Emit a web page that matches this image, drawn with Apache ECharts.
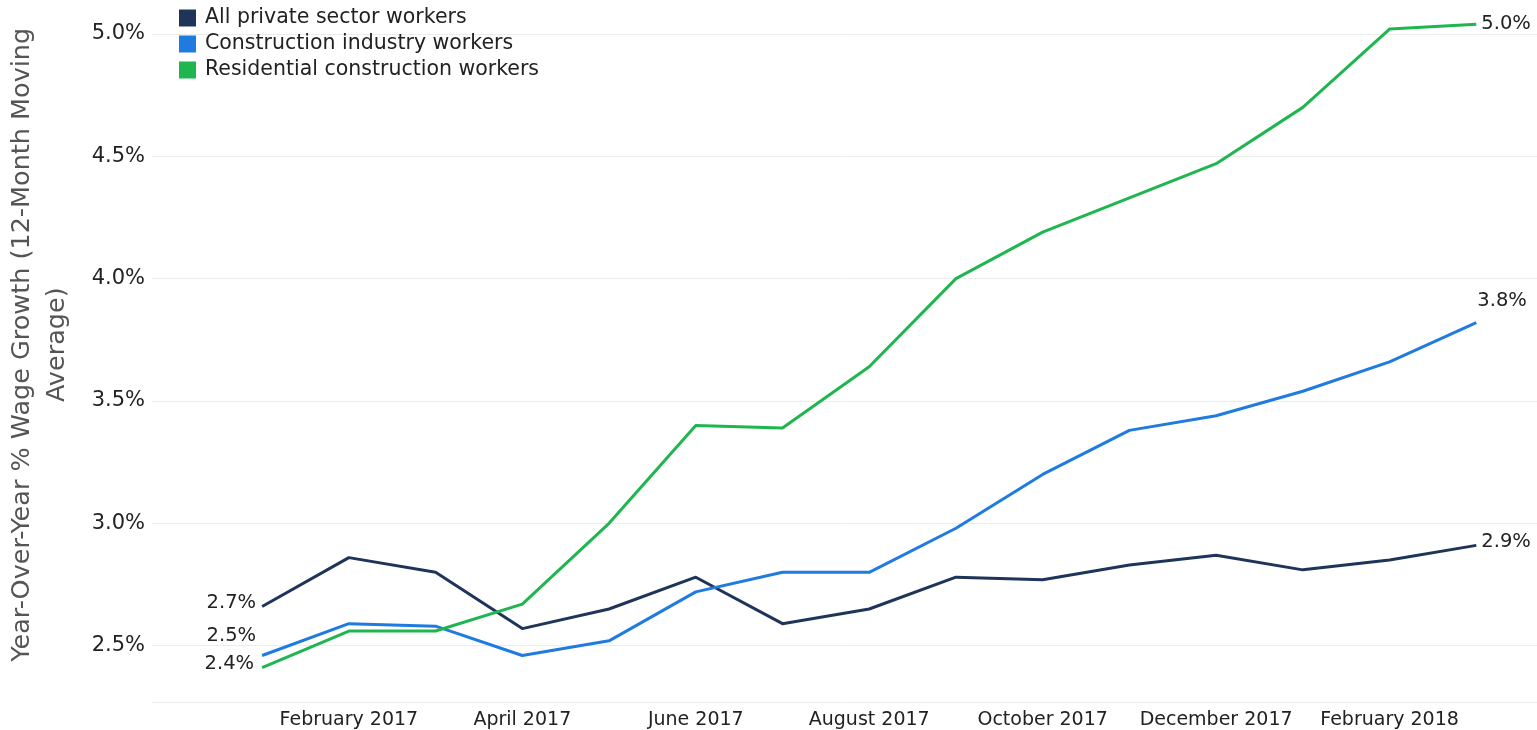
<!DOCTYPE html>
<html>
<head>
<meta charset="utf-8">
<script src="https://cdn.jsdelivr.net/npm/echarts@6/dist/echarts.min.js"></script>
<style>
  html, body { margin: 0; padding: 0; background: #fff; }
  #chart { width: 1537px; height: 730px; }
</style>
</head>
<body>
<div id="chart"></div>
<script>
// Months, January 2017 through March 2018
const months = [
  'January 2017', 'February 2017', 'March 2017', 'April 2017', 'May 2017',
  'June 2017', 'July 2017', 'August 2017', 'September 2017', 'October 2017',
  'November 2017', 'December 2017', 'January 2018', 'February 2018', 'March 2018'
];
// Month indices that carry an axis label
const labeledMonths = [1, 3, 5, 7, 9, 11, 13];
// Y-axis tick labels (percent)
const yTicks = [2.5, 3.0, 3.5, 4.0, 4.5, 5.0];

// Year-over-year wage growth, 12-month moving average (%)
const allPrivate = [2.66, 2.86, 2.80, 2.57, 2.65, 2.78, 2.59, 2.65, 2.78, 2.77, 2.83, 2.87, 2.81, 2.85, 2.91];
const construction = [2.46, 2.59, 2.58, 2.46, 2.52, 2.72, 2.80, 2.80, 2.98, 3.20, 3.38, 3.44, 3.54, 3.66, 3.82];
const residential = [2.41, 2.56, 2.56, 2.67, 3.00, 3.40, 3.39, 3.64, 4.00, 4.19, 4.33, 4.47, 4.70, 5.02, 5.04];

const seriesNames = ['All private sector workers', 'Construction industry workers', 'Residential construction workers'];
const seriesColors = ['#1e3559', '#1f7be0', '#1fb64f'];

const FONT = '"DejaVu Sans", sans-serif';
const TEXT = '#222';

// End-point label placement per series: [first, last]
const endLabels = [
  [{ position: 'left', distance: 6, offset: [0, -4] }, { position: 'right', distance: 5, offset: [0, -3] }],
  [{ position: 'left', distance: 6, offset: [0, -20] }, { position: 'right', distance: 1, offset: [0, -22] }],
  [{ position: 'left', distance: 8, offset: [0, -4] }, { position: 'right', distance: 5, offset: [0, 0] }]
];

function buildData(values, labels) {
  const last = values.length - 1;
  return values.map((v, i) => {
    const item = { value: [i, v] };
    if (i === 0 || i === last) {
      const cfg = labels[i === 0 ? 0 : 1];
      item.label = Object.assign({
        show: true,
        formatter: p => p.value[1].toFixed(1) + '%',
        color: TEXT,
        fontFamily: FONT,
        fontSize: 19.5
      }, cfg);
    }
    return item;
  });
}

const seriesValues = [allPrivate, construction, residential];

const chart = echarts.init(document.getElementById('chart'), null, { renderer: 'canvas' });
chart.setOption({
  animation: false,
  backgroundColor: '#fff',
  color: seriesColors,
  grid: { left: 152, right: 0, top: 9.5, bottom: 28, containLabel: false, outerBoundsMode: 'none' },
  legend: {
    orient: 'vertical',
    left: 174,
    top: 2.5,
    icon: 'rect',
    itemWidth: 17,
    itemHeight: 17,
    itemGap: 5,
    textStyle: { color: TEXT, fontFamily: FONT, fontSize: 20.5, lineHeight: 17, padding: [0, 0, 0, 4] },
    data: seriesNames
  },
  xAxis: {
    type: 'value',
    min: -1.27,
    max: 14.7,
    axisLine: { show: false },
    axisTick: { show: false },
    splitLine: { show: false },
    axisLabel: {
      customValues: labeledMonths,
      formatter: v => months[Math.round(v)] || '',
      color: TEXT,
      fontFamily: FONT,
      fontSize: 19,
      margin: 9
    }
  },
  yAxis: {
    type: 'value',
    min: 2.27,
    max: 5.1,
    name: 'Year-Over-Year % Wage Growth (12-Month Moving\nAverage)',
    nameLocation: 'middle',
    nameRotate: 90,
    nameGap: 77.5,
    nameTextStyle: { color: '#555', fontFamily: FONT, fontSize: 25.5, lineHeight: 35, align: 'center', padding: [0, 0, 0, 22] },
    axisLine: { show: false },
    axisTick: { show: false },
    splitLine: { show: true, showMaxLine: false, lineStyle: { color: '#ececec', width: 1 } },
    axisLabel: {
      customValues: yTicks,
      formatter: v => v.toFixed(1) + '%',
      color: TEXT,
      fontFamily: FONT,
      fontSize: 21,
      margin: 7
    }
  },
  series: seriesValues.map((vals, k) => ({
    name: seriesNames[k],
    type: 'line',
    data: buildData(vals, endLabels[k]),
    symbol: 'circle',
    symbolSize: 0.01,
    showSymbol: true,
    clip: false,
    lineStyle: { width: 3, color: seriesColors[k], join: 'round' },
    itemStyle: { color: seriesColors[k] },
    emphasis: { disabled: true }
  }))
});
</script>
</body>
</html>
